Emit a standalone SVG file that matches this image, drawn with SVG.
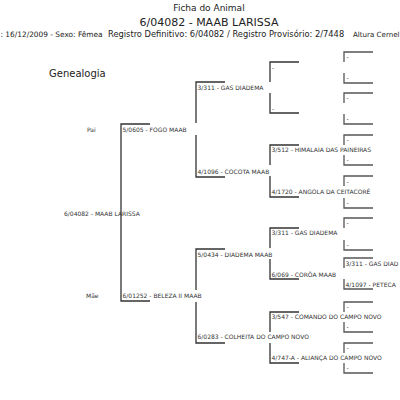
<svg xmlns="http://www.w3.org/2000/svg" width="400" height="400" viewBox="0 0 400 400">
<style>
.t{font-family:"DejaVu Sans","Liberation Sans",sans-serif;font-size:6px;fill:#333}
.h{font-family:"DejaVu Sans","Liberation Sans",sans-serif;fill:#222}
.ln{stroke:#333;stroke-width:1.3;fill:none}
.l4{stroke:#555;stroke-width:1.3;fill:none}
</style>
<rect width="400" height="400" fill="#fff"/>
<g id="header">
<text class="h" x="209" y="10.5" font-size="9" text-anchor="middle">Ficha do Animal</text>
<text class="h" x="209" y="25.5" font-size="11" text-anchor="middle">6/04082 - MAAB LARISSA</text>
<text class="h" x="0.5" y="36.5" font-size="7.4">: 16/12/2009 - Sexo: Fêmea</text>
<text class="h" x="108" y="36.5" font-size="8.3">Registro Definitivo: 6/04082 / Registro Provisório: 2/7448</text>
<text class="h" x="353" y="36.5" font-size="7.1">Altura Cernel</text>
<text class="h" x="49" y="76.5" font-size="10">Genealogia</text>
</g>
<g id="connectors">
<path class="ln" d="M150,124H121V301H150"/>
<path class="ln" d="M225,82H196V123M196,135V177H225"/>
<path class="ln" d="M225,249H196V290M196,302V343H225"/>
<path class="ln" d="M299,62H270V82M270,93V113H299"/>
<path class="ln" d="M299,145H270V165M270,176V197H299"/>
<path class="ln" d="M299,228H270V248M270,259V279H299"/>
<path class="ln" d="M299,312H270V332M270,343V363H299"/>
<path class="l4" d="M373,52H344V62M344,73V83H373"/>
<path class="l4" d="M373,93H344V103M344,114V124H373"/>
<path class="l4" d="M373,135H344V145M344,155V165H373"/>
<path class="l4" d="M373,176H344V186M344,198V208H373"/>
<path class="l4" d="M373,218H344V228M344,240V250H373"/>
<path class="l4" d="M373,258H344V268M344,279V289H373"/>
<path class="l4" d="M373,302H344V312M344,322V332H373"/>
<path class="l4" d="M373,343H344V353M344,363V373H373"/>
</g>
<g id="root"><text class="t" x="64" y="215.5" font-size="6.4">6/04082 - MAAB LARISSA</text></g>
<g id="pai"><text class="t" x="87" y="132.2">Pai</text><text class="t" x="122.5" y="132.2">5/0605 - FOGO MAAB</text></g>
<g id="mae"><text class="t" x="86" y="298.2">Mãe</text><text class="t" x="122.5" y="298.2">6/01252 - BELEZA II MAAB</text></g>
<g id="p-p"><text class="t" x="197.5" y="90.2">3/311 - GAS DIADEMA</text></g>
<g id="p-m"><text class="t" x="197.5" y="174.2">4/1096 - COCOTA MAAB</text></g>
<g id="m-p"><text class="t" x="197.5" y="257.2">5/0434 - DIADEMA MAAB</text></g>
<g id="m-m"><text class="t" x="197.5" y="339.2">6/0283 - COLHEITA DO CAMPO NOVO</text></g>
<g id="pp-p"><text class="t" x="272" y="70.2">-</text></g>
<g id="pp-m"><text class="t" x="272" y="111.2">-</text></g>
<g id="pm-p"><text class="t" x="271.5" y="152.2">3/512 - HIMALAIA DAS PAINEIRAS</text></g>
<g id="pm-m"><text class="t" x="271.5" y="194.2">4/1720 - ANGOLA DA CEITACORÊ</text></g>
<g id="mp-p"><text class="t" x="271.5" y="235.2">3/311 - GAS DIADEMA</text></g>
<g id="mp-m"><text class="t" x="271.5" y="277.2">6/069 - CORÔA MAAB</text></g>
<g id="mm-p"><text class="t" x="271.5" y="319.2">3/547 - COMANDO DO CAMPO NOVO</text></g>
<g id="mm-m"><text class="t" x="271.5" y="360.2">4/747-A - ALIANÇA DO CAMPO NOVO</text></g>
<g id="gen4">
<text class="t" x="346.5" y="59">-</text><text class="t" x="346.5" y="80">-</text>
<text class="t" x="346.5" y="100">-</text><text class="t" x="346.5" y="121">-</text>
<text class="t" x="346.5" y="142">-</text><text class="t" x="346.5" y="162">-</text>
<text class="t" x="346.5" y="184">-</text><text class="t" x="346.5" y="205">-</text>
<text class="t" x="346.5" y="225">-</text><text class="t" x="346.5" y="247">-</text>
<text class="t" x="345.5" y="265.5">3/311 - GAS DIAD</text><text class="t" x="345.5" y="287">4/1097 - PETECA</text>
<text class="t" x="346.5" y="309">-</text><text class="t" x="346.5" y="329">-</text>
<text class="t" x="346.5" y="350">-</text><text class="t" x="346.5" y="370">-</text>
</g>
</svg>
